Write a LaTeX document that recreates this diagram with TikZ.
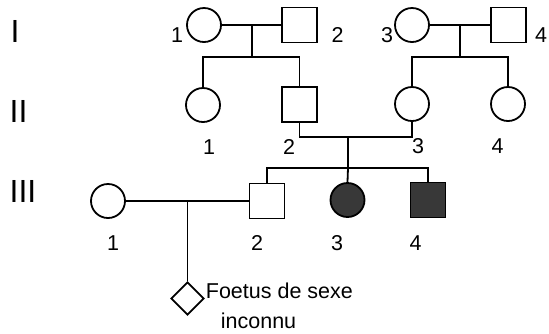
\documentclass[tikz,border=0pt]{standalone}
\usepackage{fontspec}
\setmainfont{Liberation Sans}
\usetikzlibrary{shapes.geometric}
\begin{document}
\begin{tikzpicture}[x=1pt,y=-1pt,
  line width=1.8pt,
  fem/.style={circle,draw,minimum size=34pt,inner sep=0pt},
  mal/.style={rectangle,draw,minimum size=35pt,inner sep=0pt},
  aff/.style={fill=black!78},
  unk/.style={diamond,draw,minimum size=33pt,inner sep=0pt,aspect=1},
  lab/.style={inner sep=0pt,font=\fontsize{21.5}{25}\selectfont},
  gen/.style={inner sep=0pt,font=\fontsize{32}{36}\selectfont}]
\useasboundingbox (0,0) rectangle (549,333);
% generation labels
\node[gen] (gI) at (15,31.5) {I};
\node[gen] (gII) at (18.5,111.5) {II};
\node[gen] (gIII) at (23,191) {III};
% generation I
\node[fem] (I1) at (204,25) {};
\node[mal] (I2) at (299.5,25) {};
\node[fem] (I3) at (412,25) {};
\node[mal] (I4) at (508.5,25) {};
% generation II
\node[fem] (II1) at (203,105) {};
\node[mal] (II2) at (299.5,104.5) {};
\node[fem] (II3) at (412,104) {};
\node[fem] (II4) at (508,104) {};
% generation III
\node[fem] (III1) at (108,201) {};
\node[mal] (III2) at (267,201) {};
\node[fem,aff] (III3) at (347.5,200) {};
\node[mal,aff] (III4) at (428,200) {};
\node[unk] (F) at (187.5,298.5) {};
% coordinates
\coordinate (m1) at (252,25);
\coordinate (s1) at (252,57);
\coordinate (m2) at (460,25);
\coordinate (s2) at (460,57);
\coordinate (m3) at (348,137);
\coordinate (s3) at (348,168);
\coordinate (m4) at (187.5,201);
% connectors
\draw (I1) -- (I2);
\draw (m1) -- (s1);
\draw (II1.north) |- (s1) -| (II2.north);
\draw (I3) -- (I4);
\draw (m2) -- (s2);
\draw (II3.north) |- (s2) -| (II4.north);
\draw (II2.south) |- (m3) -| (II3.south);
\draw (m3) -- (s3);
\draw (III2.north) |- (s3) -| (III4.north);
\draw (s3) -- (III3.north);
\draw (III1) -- (III2);
\draw (m4) -- (F.north);
% labels
\node[lab] (lI1) at (177,35) {1};
\node[lab] (lI2) at (337.5,35) {2};
\node[lab] (lI3) at (387,35) {3};
\node[lab] (lI4) at (541,35) {4};
\node[lab] (lII1) at (209,147.5) {1};
\node[lab] (lII2) at (289,147) {2};
\node[lab] (lII3) at (418,146) {3};
\node[lab] (lII4) at (497.5,146) {4};
\node[lab] (lIII1) at (113,243) {1};
\node[lab] (lIII2) at (257,243) {2};
\node[lab] (lIII3) at (337,243) {3};
\node[lab] (lIII4) at (415.5,243) {4};
\node[lab,anchor=base west] (ft1) at (205,298) {Foetus de sexe};
\node[lab,anchor=base west] (ft2) at (220,328) {inconnu};
\end{tikzpicture}
\end{document}
